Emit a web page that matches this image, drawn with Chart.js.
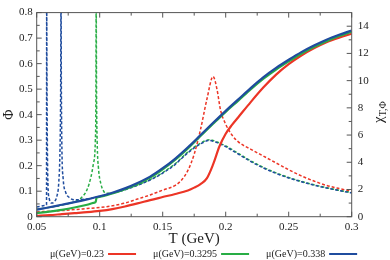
<!DOCTYPE html>
<html>
<head>
<meta charset="utf-8">
<script src="https://cdn.jsdelivr.net/npm/chart.js@4.4.0/dist/chart.umd.min.js"></script>
<style>
  html, body { margin: 0; padding: 0; background: #fff; }
</style>
</head>
<body>
<canvas id="chart" width="390" height="260"></canvas>
<script>
// legend labels, one per chemical potential
const muLabels = ['μ(GeV)=0.23', 'μ(GeV)=0.3295', 'μ(GeV)=0.338'];

// tick values
const xTicks = [0.05, 0.1, 0.15, 0.2, 0.25, 0.3];
const phiTicks = [0, 0.1, 0.2, 0.3, 0.4, 0.5, 0.6, 0.7, 0.8];
const chiTicks = [0, 2, 4, 6, 8, 10, 12, 14];

// Phi (solid lines, left axis)
const tPhiRed = [0.05, 0.06, 0.07, 0.08, 0.09, 0.10, 0.11, 0.12, 0.13, 0.14, 0.15, 0.16, 0.17, 0.175, 0.18, 0.185, 0.19, 0.195, 0.20, 0.205, 0.21, 0.22, 0.23, 0.24, 0.25, 0.26, 0.27, 0.28, 0.29, 0.30];
const phiRed = [0.003, 0.006, 0.01, 0.014, 0.018, 0.023, 0.03, 0.04, 0.052, 0.065, 0.077, 0.089, 0.103, 0.114, 0.128, 0.15, 0.205, 0.275, 0.325, 0.36, 0.39, 0.45, 0.507, 0.557, 0.598, 0.632, 0.66, 0.684, 0.702, 0.717];

const tPhiGreen = [0.05, 0.06, 0.07, 0.08, 0.09, 0.095, 0.0968, 0.0975, 0.10, 0.11, 0.12, 0.13, 0.14, 0.15, 0.16, 0.17, 0.18, 0.19, 0.20, 0.21, 0.22, 0.23, 0.24, 0.25, 0.26, 0.27, 0.28, 0.29, 0.30];
const phiGreen = [0.014, 0.02, 0.027, 0.036, 0.047, 0.054, 0.058, 0.074, 0.078, 0.091, 0.108, 0.128, 0.153, 0.186, 0.224, 0.268, 0.316, 0.364, 0.411, 0.455, 0.5, 0.541, 0.577, 0.609, 0.639, 0.665, 0.688, 0.708, 0.725];

const tPhiBlue = [0.05, 0.06, 0.07, 0.08, 0.09, 0.10, 0.11, 0.12, 0.13, 0.14, 0.15, 0.16, 0.17, 0.18, 0.19, 0.20, 0.21, 0.22, 0.23, 0.24, 0.25, 0.26, 0.27, 0.28, 0.29, 0.30];
const phiBlue = [0.028, 0.037, 0.047, 0.057, 0.068, 0.08, 0.094, 0.111, 0.132, 0.157, 0.19, 0.228, 0.272, 0.32, 0.368, 0.415, 0.46, 0.505, 0.547, 0.583, 0.615, 0.645, 0.671, 0.694, 0.713, 0.73];

// chi_T,Phi (dashed lines, right axis)
const tChiRed = [0.05, 0.06, 0.07, 0.08, 0.09, 0.10, 0.11, 0.12, 0.13, 0.14, 0.15, 0.16, 0.165, 0.17, 0.175, 0.18, 0.185, 0.19, 0.193, 0.196, 0.20, 0.205, 0.21, 0.22, 0.23, 0.24, 0.25, 0.26, 0.27, 0.28, 0.29, 0.30];
const chiRed = [0.35, 0.4, 0.45, 0.52, 0.6, 0.68, 0.8, 1.0, 1.3, 1.6, 1.95, 2.3, 2.7, 3.4, 4.6, 6.4, 8.6, 10.3, 9.4, 7.8, 6.8, 6.0, 5.5, 4.95, 4.45, 3.95, 3.45, 3.0, 2.62, 2.3, 2.07, 1.88];

const tChiGreen = [0.05, 0.06, 0.07, 0.08, 0.085, 0.09, 0.093, 0.095, 0.0965, 0.097, 0.0972, 0.0975, 0.098, 0.099, 0.101, 0.103, 0.105, 0.11, 0.12, 0.13, 0.14, 0.15, 0.16, 0.17, 0.18, 0.187, 0.19, 0.20, 0.21, 0.22, 0.23, 0.24, 0.25, 0.26, 0.27, 0.28, 0.29, 0.30];
const chiGreen = [0.55, 0.68, 0.85, 1.1, 1.35, 2.0, 2.9, 3.9, 5.5, 9, 16, 9, 5.5, 3.6, 2.4, 1.9, 1.72, 1.74, 2.0, 2.33, 2.73, 3.24, 3.9, 4.75, 5.4, 5.65, 5.6, 5.2, 4.65, 4.1, 3.62, 3.22, 2.88, 2.6, 2.35, 2.13, 1.94, 1.77];

const tChiBlue = [0.05, 0.053, 0.056, 0.0578, 0.0579, 0.0582, 0.0586, 0.059, 0.060, 0.062, 0.064, 0.066, 0.0675, 0.0685, 0.069, 0.0693, 0.0696, 0.070, 0.071, 0.073, 0.076, 0.08, 0.09, 0.10, 0.11, 0.12, 0.13, 0.14, 0.15, 0.16, 0.17, 0.18, 0.187, 0.19, 0.20, 0.21, 0.22, 0.23, 0.24, 0.25, 0.26, 0.27, 0.28, 0.29, 0.30];
const chiBlue = [0.72, 0.76, 0.82, 0.88, 16, 9, 4, 2.2, 1.3, 1.0, 1.1, 1.5, 2.5, 5, 9, 16, 9, 5, 2.8, 1.8, 1.4, 1.25, 1.3, 1.5, 1.72, 1.98, 2.3, 2.7, 3.2, 3.85, 4.7, 5.35, 5.6, 5.55, 5.15, 4.6, 4.05, 3.58, 3.18, 2.85, 2.57, 2.32, 2.11, 1.92, 1.75];

const RED = '#ec3526';
const GREEN = '#28ad45';
const BLUE = '#1f4c9e';
const SERIF = '"Liberation Serif", "DejaVu Serif", serif';

const pts = (xs, ys) => xs.map((x, i) => ({ x: x, y: ys[i] }));

function solid(data, color) {
  return { data: data, yAxisID: 'yPhi', borderColor: color, borderWidth: 2.2,
    pointRadius: 0, fill: false, cubicInterpolationMode: 'monotone' };
}
function dashed(data, color) {
  return { data: data, yAxisID: 'yChi', borderColor: color, borderWidth: 1.5,
    borderDash: [3, 2], pointRadius: 0, fill: false, cubicInterpolationMode: 'monotone' };
}

// frame, inward tick marks, right axis title and legend
const decorations = {
  id: 'decorations',
  afterDraw(chart) {
    const { ctx, chartArea: a, scales } = chart;
    ctx.save();
    ctx.strokeStyle = '#555';
    ctx.lineWidth = 1;
    ctx.strokeRect(a.left, a.top, a.right - a.left, a.bottom - a.top);

    const mark = (x1, y1, x2, y2) => {
      ctx.beginPath(); ctx.moveTo(x1, y1); ctx.lineTo(x2, y2); ctx.stroke();
    };
    const withMinor = (arr) => {
      const out = [];
      arr.forEach((v, i) => {
        out.push([v, 5]);
        if (i < arr.length - 1) out.push([(v + arr[i + 1]) / 2, 3]);
      });
      return out;
    };
    withMinor(xTicks).forEach(([v, len]) => {
      const x = scales.x.getPixelForValue(v);
      mark(x, a.bottom, x, a.bottom - len);
      mark(x, a.top, x, a.top + len);
    });
    withMinor(phiTicks).forEach(([v, len]) => {
      const y = scales.yPhi.getPixelForValue(v);
      mark(a.left, y, a.left + len, y);
    });
    withMinor(chiTicks).forEach(([v, len]) => {
      const y = scales.yChi.getPixelForValue(v);
      mark(a.right, y, a.right - len, y);
    });

    // right axis title, rotated, with subscript
    ctx.fillStyle = '#222';
    ctx.translate(379, 112);
    ctx.rotate(-Math.PI / 2);
    ctx.font = '15px ' + SERIF;
    const w1 = ctx.measureText('χ').width;
    ctx.font = '10px ' + SERIF;
    const w2 = ctx.measureText('T,Φ').width;
    const x0 = -(w1 + w2) / 2;
    ctx.textBaseline = 'alphabetic';
    ctx.font = '15px ' + SERIF;
    ctx.fillText('χ', x0, 4);
    ctx.font = '10px ' + SERIF;
    ctx.fillText('T,Φ', x0 + w1, 7);
    ctx.setTransform(1, 0, 0, 1, 0, 0);

    // legend: label then line sample
    const colors = [RED, GREEN, BLUE];
    ctx.font = '10px ' + SERIF;
    ctx.textBaseline = 'middle';
    let x = 50;
    const y = 254;
    muLabels.forEach((label, i) => {
      ctx.fillStyle = '#222';
      ctx.fillText(label, x, y);
      x += ctx.measureText(label).width + 4;
      ctx.strokeStyle = colors[i];
      ctx.lineWidth = 2;
      mark(x, y, x + 28, y);
      x += 28 + 17;
    });
    ctx.restore();
  }
};

const setTicks = (arr) => (scale) => { scale.ticks = arr.map(v => ({ value: v })); };

new Chart(document.getElementById('chart'), {
  type: 'line',
  data: {
    datasets: [
      solid(pts(tPhiBlue, phiBlue), BLUE),
      solid(pts(tPhiGreen, phiGreen), GREEN),
      solid(pts(tPhiRed, phiRed), RED),
      dashed(pts(tChiBlue, chiBlue), BLUE),
      dashed(pts(tChiGreen, chiGreen), GREEN),
      dashed(pts(tChiRed, chiRed), RED)
    ]
  },
  options: {
    responsive: false,
    animation: false,
    layout: { padding: { top: 4.3, left: 0, right: 0, bottom: 0 } },
    plugins: { legend: { display: false }, tooltip: { enabled: false } },
    scales: {
      x: {
        type: 'linear', position: 'bottom', min: 0.05, max: 0.3,
        afterBuildTicks: setTicks(xTicks),
        afterFit: (s) => { s.height = 43.3; },
        grid: { display: false, drawTicks: false },
        border: { display: false },
        ticks: { color: '#222', padding: 4, maxRotation: 0, autoSkip: false,
          font: { family: SERIF, size: 11 }, callback: (v) => String(v) },
        title: { display: true, text: 'T (GeV)', color: '#222',
          font: { family: SERIF, size: 15 }, padding: { top: 0, bottom: 12 } }
      },
      yPhi: {
        type: 'linear', position: 'left', min: 0, max: 0.8,
        afterBuildTicks: setTicks(phiTicks),
        afterFit: (s) => { s.width = 36.7; },
        grid: { display: false, drawTicks: false },
        border: { display: false },
        ticks: { color: '#222', padding: 4, font: { family: SERIF, size: 11 },
          callback: (v) => String(v) },
        title: { display: true, text: 'Φ', color: '#222',
          font: { family: SERIF, size: 14 }, padding: { top: 1, bottom: 0 } }
      },
      yChi: {
        type: 'linear', position: 'right', min: 0, max: 15,
        afterBuildTicks: setTicks(chiTicks),
        afterFit: (s) => { s.width = 38.3; },
        grid: { display: false, drawTicks: false },
        border: { display: false },
        ticks: { color: '#222', padding: 6, font: { family: SERIF, size: 11 },
          callback: (v) => String(v) }
      }
    }
  },
  plugins: [decorations]
});
</script>
</body>
</html>
